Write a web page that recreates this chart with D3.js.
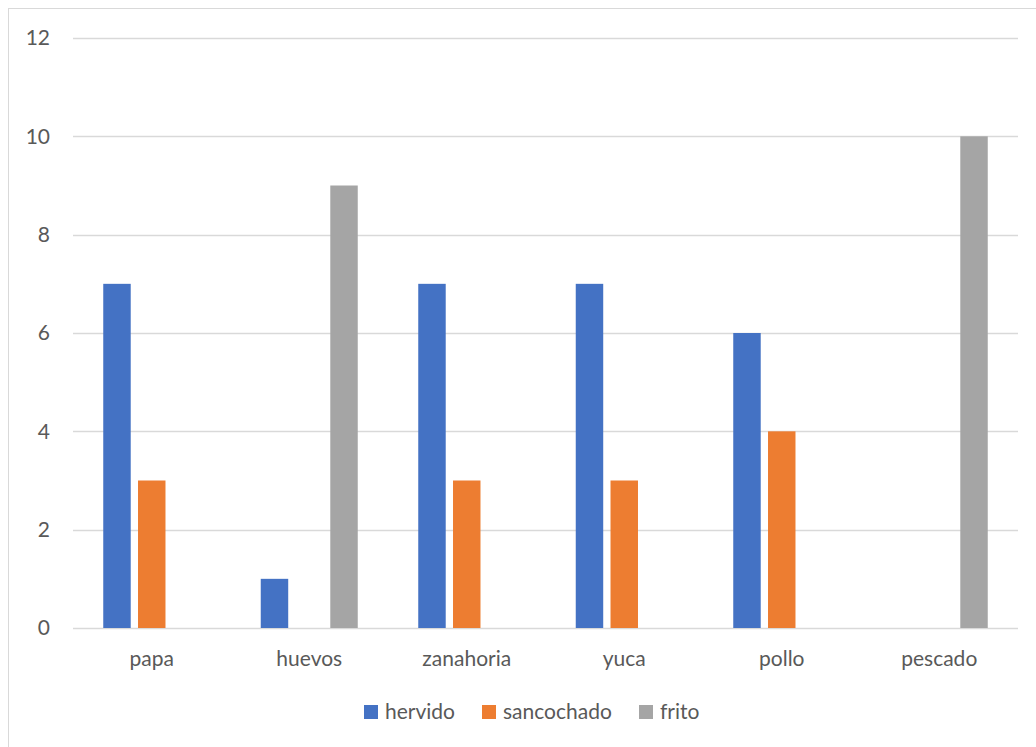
<!DOCTYPE html>
<html>
<head>
<meta charset="utf-8">
<script src="https://cdn.jsdelivr.net/npm/d3@7"></script>
<style>
  html, body { margin: 0; padding: 0; background: #fff; }
  svg { display: block; }
  text { font-family: Lato, "Open Sans", sans-serif; fill: #595959; }
</style>
</head>
<body>
<svg id="chart" width="1036" height="747"></svg>
<script>
// Data
const categories = ["papa", "huevos", "zanahoria", "yuca", "pollo", "pescado"];
const seriesNames = ["hervido", "sancochado", "frito"];
const hervido = [7, 1, 7, 7, 6, 0];
const sancochado = [3, 0, 3, 3, 4, 0];
const frito = [0, 9, 0, 0, 0, 10];
const yTicks = [0, 2, 4, 6, 8, 10, 12];
const colors = ["#4472c4", "#ed7d31", "#a5a5a5"];

const seriesValues = [hervido, sancochado, frito];
const rows = categories.map((c, i) => ({
  cat: c,
  vals: seriesNames.map((s, k) => ({ key: s, value: seriesValues[k][i] }))
}));

const FONT = "Lato, 'Open Sans', sans-serif";
const FS = 21;

const svg = d3.select("#chart");

// Outer chart frame
svg.append("rect")
  .attr("x", 8.5).attr("y", 8.5)
  .attr("width", 1040).attr("height", 760)
  .attr("fill", "none").attr("stroke", "#d9d9d9").attr("stroke-width", 1);

const plot = { left: 73, right: 1018, top: 38, bottom: 628 };

const x0 = d3.scaleBand().domain(categories).range([plot.left, plot.right]).paddingInner(0).paddingOuter(0);
const x1 = d3.scaleBand().domain(seriesNames).range([-48.5, 48.5]).paddingInner(0.21);
const y = d3.scaleLinear().domain([0, 12]).range([plot.bottom, plot.top]);

// Gridlines
svg.append("g").selectAll("line").data(yTicks).join("line")
  .attr("x1", plot.left).attr("x2", plot.right)
  .attr("y1", d => Math.round(y(d)) + 0.5).attr("y2", d => Math.round(y(d)) + 0.5)
  .attr("stroke", "#d9d9d9").attr("stroke-width", 1.3);

// Y axis labels
const yAxis = d3.axisLeft(y).tickValues(yTicks).tickSize(0).tickPadding(0);
const gy = svg.append("g").attr("transform", `translate(50,0)`).call(yAxis);
gy.select(".domain").remove();
gy.selectAll("text").attr("font-size", FS).attr("fill", "#595959")
  .style("font-family", FONT);

// Bars
const groups = svg.append("g").selectAll("g").data(rows).join("g")
  .attr("transform", d => `translate(${x0(d.cat) + x0.bandwidth() / 2},0)`);
groups.selectAll("rect").data(d => d.vals.filter(v => v.value > 0)).join("rect")
  .attr("x", d => x1(d.key))
  .attr("width", x1.bandwidth())
  .attr("y", d => y(d.value))
  .attr("height", d => y(0) - y(d.value))
  .attr("fill", (d) => colors[seriesNames.indexOf(d.key)]);

// X axis labels
const xAxis = d3.axisBottom(x0).tickSize(0).tickPadding(0);
const gx = svg.append("g").attr("transform", `translate(0,${plot.bottom + 38})`).call(xAxis);
gx.select(".domain").remove();
gx.selectAll("text").attr("font-size", FS).attr("fill", "#595959").attr("dy", 0)
  .style("font-family", FONT);

// Legend
const legendX = [364, 482, 639];
const legend = svg.append("g").selectAll("g").data(seriesNames).join("g")
  .attr("transform", (d, i) => `translate(${legendX[i]},705)`);
legend.append("rect").attr("width", 14).attr("height", 14).attr("fill", (d, i) => colors[i]);
legend.append("text").attr("x", 21).attr("y", 14).attr("font-size", FS).text(d => d);
</script>
</body>
</html>
